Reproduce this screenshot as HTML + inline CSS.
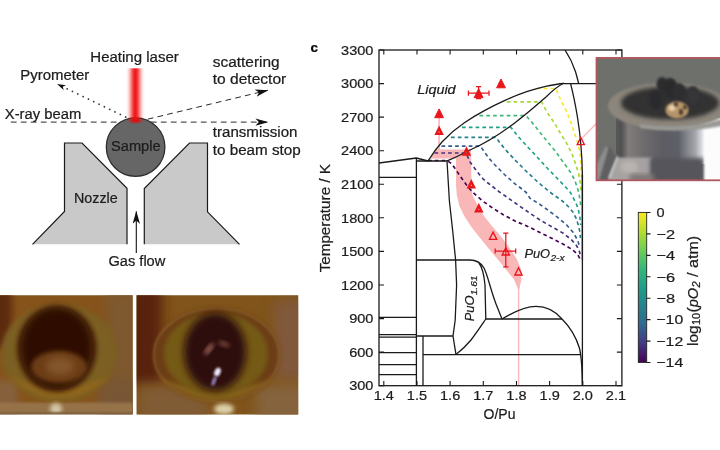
<!DOCTYPE html>
<html><head><meta charset="utf-8"><title>figure</title>
<style>
html,body{margin:0;padding:0;background:#fff;}
body{width:720px;height:450px;overflow:hidden;font-family:"Liberation Sans",sans-serif;}
svg{display:block;font-family:"Liberation Sans",sans-serif;}
</style></head><body>
<svg width="720" height="450" viewBox="0 0 720 450">
<g style="opacity:0.999">
<defs>
<linearGradient id="laser" x1="0" x2="1" y1="0" y2="0">
<stop offset="0" stop-color="#f01414" stop-opacity="0"/>
<stop offset="0.1" stop-color="#f01414" stop-opacity="0.07"/>
<stop offset="0.2" stop-color="#f01414" stop-opacity="0.27"/>
<stop offset="0.3" stop-color="#f01414" stop-opacity="0.58"/>
<stop offset="0.4" stop-color="#f01414" stop-opacity="0.87"/>
<stop offset="0.5" stop-color="#f01414" stop-opacity="1"/>
<stop offset="0.6" stop-color="#f01414" stop-opacity="0.87"/>
<stop offset="0.7" stop-color="#f01414" stop-opacity="0.58"/>
<stop offset="0.8" stop-color="#f01414" stop-opacity="0.27"/>
<stop offset="0.9" stop-color="#f01414" stop-opacity="0.07"/>
<stop offset="1" stop-color="#f01414" stop-opacity="0"/>
</linearGradient>
<linearGradient id="viridis" x1="0" x2="0" y1="0" y2="1">
<stop offset="0" stop-color="#fde725"/>
<stop offset="0.125" stop-color="#b5de2b"/>
<stop offset="0.25" stop-color="#6ece58"/>
<stop offset="0.375" stop-color="#35b779"/>
<stop offset="0.5" stop-color="#1f9e89"/>
<stop offset="0.625" stop-color="#26828e"/>
<stop offset="0.75" stop-color="#31688e"/>
<stop offset="0.875" stop-color="#443983"/>
<stop offset="1" stop-color="#440154"/>
</linearGradient>
<marker id="ah" viewBox="0 0 13 7.4" refX="12.4" refY="3.7" markerWidth="13" markerHeight="7.4" markerUnits="userSpaceOnUse" orient="auto">
<path d="M0,0 L13,3.7 L0,7.4 L3.4,3.7 Z" fill="#111"/></marker>
<marker id="ah2" viewBox="0 0 8.6 5.2" refX="8.2" refY="2.6" markerWidth="8.6" markerHeight="5.2" markerUnits="userSpaceOnUse" orient="auto">
<path d="M0,0 L8.6,2.6 L0,5.2 L2.2,2.6 Z" fill="#111"/></marker>
<filter id="b1" x="-20%" y="-20%" width="140%" height="140%"><feGaussianBlur stdDeviation="1"/></filter>
<filter id="b2" x="-20%" y="-20%" width="140%" height="140%"><feGaussianBlur stdDeviation="2"/></filter>
<filter id="b3" x="-30%" y="-30%" width="160%" height="160%"><feGaussianBlur stdDeviation="3.5"/></filter>
<filter id="b5" x="-40%" y="-40%" width="180%" height="180%"><feGaussianBlur stdDeviation="6"/></filter>
<filter id="b8" x="-50%" y="-50%" width="200%" height="200%"><feGaussianBlur stdDeviation="10"/></filter>
<clipPath id="cp1"><rect x="0" y="295.3" width="132.6" height="119"/></clipPath>
<clipPath id="cp2"><rect x="136.6" y="295.3" width="161.6" height="119.3"/></clipPath>
<clipPath id="cp3"><rect x="596" y="57.5" width="124" height="123"/></clipPath>
<clipPath id="cpplot"><rect x="379" y="50" width="242.9" height="335.7"/></clipPath>
</defs>
<rect x="0" y="0" width="720" height="450" fill="#ffffff"/>
<path d="M64.5,143 L82,143 L127,188.3 L127,244.3 L32.5,244.3 L64.5,211.5 Z" fill="#c9c9c9"/>
<path d="M32.5,244.3 L64.5,211.5 L64.5,143 L82,143 L127,188.3 L127,244.3" fill="none" stroke="#1a1a1a" stroke-width="1.2" stroke-linejoin="miter"/>
<path d="M207.5,143 L189.5,143 L144.3,188.5 L144.3,244.3 L239.5,244.3 L207.5,211.8 Z" fill="#c9c9c9"/>
<path d="M239.5,244.3 L207.5,211.8 L207.5,143 L189.5,143 L144.3,188.5 L144.3,244.3" fill="none" stroke="#1a1a1a" stroke-width="1.2" stroke-linejoin="miter"/>
<line x1="10.8" y1="122.1" x2="267.8" y2="122.1" stroke="#2a2a2a" stroke-width="1" stroke-dasharray="5.8,4.2" marker-end="url(#ah)"/>
<line x1="138" y1="121.5" x2="267.8" y2="90.3" stroke="#2a2a2a" stroke-width="1" stroke-dasharray="5.8,4.2" marker-end="url(#ah)"/>
<line x1="131" y1="119.6" x2="66" y2="88.3" stroke="#333" stroke-width="1.7" stroke-dasharray="0.1,5.8" stroke-linecap="round"/>
<line x1="66" y1="88.3" x2="57.4" y2="84.15" stroke="none" stroke-width="1" marker-end="url(#ah2)"/>
<circle cx="135.6" cy="147.1" r="29.3" fill="#666666" stroke="#2e2e2e" stroke-width="1.3"/>
<rect x="125.6" y="68.3" width="19.4" height="54" fill="url(#laser)"/>
<ellipse cx="135.7" cy="120.3" rx="5.5" ry="2.6" fill="#d01010" opacity="0.6" filter="url(#b1)"/>
<line x1="136.3" y1="253" x2="136.3" y2="211.5" stroke="#111" stroke-width="1.1" marker-end="url(#ah)"/>
<text x="90.30" y="61.80" font-size="13.91" textLength="88.44" lengthAdjust="spacingAndGlyphs" fill="#1c1c1c" stroke="#1c1c1c" stroke-width="0.22">Heating laser</text>
<text x="20.30" y="79.50" font-size="13.91" textLength="68.95" lengthAdjust="spacingAndGlyphs" fill="#1c1c1c" stroke="#1c1c1c" stroke-width="0.22">Pyrometer</text>
<text x="4.80" y="118.50" font-size="13.91" textLength="76.41" lengthAdjust="spacingAndGlyphs" fill="#1c1c1c" stroke="#1c1c1c" stroke-width="0.22">X-ray beam</text>
<text x="212.80" y="67.00" font-size="13.91" textLength="66.79" lengthAdjust="spacingAndGlyphs" fill="#1c1c1c" stroke="#1c1c1c" stroke-width="0.22">scattering</text>
<text x="212.80" y="83.80" font-size="13.91" textLength="73.46" lengthAdjust="spacingAndGlyphs" fill="#1c1c1c" stroke="#1c1c1c" stroke-width="0.22">to detector</text>
<text x="212.80" y="137.00" font-size="13.91" textLength="84.65" lengthAdjust="spacingAndGlyphs" fill="#1c1c1c" stroke="#1c1c1c" stroke-width="0.22">transmission</text>
<text x="212.80" y="154.50" font-size="13.91" textLength="87.93" lengthAdjust="spacingAndGlyphs" fill="#1c1c1c" stroke="#1c1c1c" stroke-width="0.22">to beam stop</text>
<text x="111.00" y="151.30" font-size="13.91" textLength="49.68" lengthAdjust="spacingAndGlyphs" fill="#1c1c1c" stroke="#1c1c1c" stroke-width="0.22">Sample</text>
<text x="74.00" y="203.30" font-size="13.91" textLength="43.76" lengthAdjust="spacingAndGlyphs" fill="#1c1c1c" stroke="#1c1c1c" stroke-width="0.22">Nozzle</text>
<text x="108.50" y="266.30" font-size="13.91" textLength="56.79" lengthAdjust="spacingAndGlyphs" fill="#1c1c1c" stroke="#1c1c1c" stroke-width="0.22">Gas flow</text>
<g clip-path="url(#cp1)">
<rect x="0" y="295" width="133" height="120" fill="#86531b"/>
<rect x="-14" y="288" width="26" height="60" fill="#5c2c0c" filter="url(#b3)"/>
<rect x="106" y="290" width="40" height="130" fill="#7e582e" filter="url(#b5)"/>
<rect x="98" y="380" width="50" height="45" fill="#785636" filter="url(#b5)"/>
<rect x="-12" y="380" width="30" height="40" fill="#86603a" filter="url(#b3)"/>
<rect x="-5" y="402.5" width="140" height="16" fill="#96724a" filter="url(#b1)"/>
<ellipse cx="59" cy="353" rx="58" ry="49" fill="#7c5e22" filter="url(#b2)"/>
<path d="M8,376 Q59,420 110,376 Q59,398 8,376 Z" fill="#90661e" filter="url(#b2)"/>
<ellipse cx="57" cy="349" rx="40" ry="43" fill="#54300e" filter="url(#b2)"/>
<ellipse cx="56.5" cy="348" rx="36" ry="40.5" fill="#2e0d06" filter="url(#b3)"/>
<ellipse cx="59" cy="367" rx="28" ry="16" fill="#6c3e15" filter="url(#b2)"/>
<ellipse cx="60" cy="366" rx="14" ry="9" fill="#845629" filter="url(#b3)"/>
<ellipse cx="56" cy="409" rx="6" ry="6" fill="#d4c6a4" filter="url(#b2)"/>
<rect x="-5" y="412.3" width="140" height="4" fill="#7a6040" filter="url(#b1)"/>
</g>
<g clip-path="url(#cp2)">
<rect x="136" y="295" width="163" height="120" fill="#80541a"/>
<rect x="124" y="284" width="38" height="100" fill="#58200a" filter="url(#b5)"/>
<rect x="274" y="300" width="36" height="80" fill="#80583a" filter="url(#b5)"/>
<rect x="256" y="385" width="50" height="40" fill="#85633d" filter="url(#b5)"/>
<rect x="140" y="386" width="68" height="34" fill="#805c34" filter="url(#b5)"/>
<ellipse cx="216.6" cy="355" rx="63" ry="47" fill="#6c3e12" filter="url(#b2)"/>
<ellipse cx="216.6" cy="355" rx="62.5" ry="46.5" fill="none" stroke="#8a5e30" stroke-width="1.5" filter="url(#b1)"/>
<path d="M160,378 Q216,424 274,378 Q216,400 160,378 Z" fill="#86621a" filter="url(#b2)"/>
<ellipse cx="216" cy="354" rx="52" ry="41" fill="#755a12" filter="url(#b2)"/>
<ellipse cx="215" cy="352" rx="31" ry="39" fill="#2e0c0a" filter="url(#b3)"/>
<ellipse cx="209" cy="349" rx="7" ry="2.6" fill="#9a6454" filter="url(#b2)" transform="rotate(-52 209 349)"/>
<ellipse cx="224" cy="344" rx="6" ry="2.2" fill="#7c4c3c" filter="url(#b2)" transform="rotate(20 224 344)"/>
<ellipse cx="217.5" cy="372" rx="3" ry="4.5" fill="#eeeaff" filter="url(#b1)" transform="rotate(25 217.5 372)"/>
<ellipse cx="214" cy="381" rx="2" ry="5" fill="#8a7ab0" filter="url(#b1)" transform="rotate(20 214 381)"/>
<ellipse cx="224" cy="409" rx="10" ry="5.5" fill="#dccfa8" filter="url(#b2)"/>
</g>
<g clip-path="url(#cpplot)">
<path d="M456.0,158.4 L456.0,185.0 L456.8,195.0 L459.2,205.6 L464.2,216.1 L471.2,226.7 L479.5,237.2 L488.0,247.8 L496.8,258.3 L505.6,268.9 L514.0,279.4 L517.9,289.0 L519.3,289.0 L521.4,279.4 L521.0,268.9 L516.4,258.3 L509.4,247.8 L501.6,237.2 L492.5,226.7 L484.0,216.1 L476.7,203.4 L472.4,195.0 L471.3,175.0 L471.0,149.6 Z" fill="#f9b7b8"/>
<path d="M436.2,149.6 L471,149.6 L471,158.4 L430,158.4 Z" fill="#f9b7b8"/>
<line x1="518.6" y1="285" x2="518.6" y2="386" stroke="#f9b7b8" stroke-width="1.4"/>
<line x1="439.1" y1="116" x2="439.1" y2="151" stroke="#f9b7b8" stroke-width="1.6"/>
<line x1="581" y1="139" x2="597" y2="123" stroke="#f9b7b8" stroke-width="1.2"/>
<path d="M428.0,160.5 L447.0,160.5 L452.0,164.0 L455.6,169.4 L459.4,175.0 L463.8,181.2 L468.0,187.0 L473.0,192.5 L478.0,197.0 L483.3,201.5 L493.3,208.5 L503.3,214.7 L515.0,221.0 L530.0,227.5 L540.0,232.5 L551.7,238.3 L563.3,244.2 L571.7,249.2 L577.5,254.2 L579.7,258.3 L580.4,261.5" fill="none" stroke="#440154" stroke-width="1.65" stroke-dasharray="3.7,3.1" stroke-linejoin="round"/>
<path d="M434.5,153.0 L466.0,153.0 L470.0,161.9 L474.4,168.0 L478.8,173.8 L483.0,178.8 L488.0,183.0 L493.8,187.5 L498.8,191.5 L506.7,197.0 L518.3,205.2 L530.0,213.3 L540.0,220.0 L551.7,226.7 L563.3,233.3 L571.7,240.0 L576.7,245.8 L579.2,250.8 L580.2,254.5" fill="none" stroke="#46327e" stroke-width="1.65" stroke-dasharray="3.7,3.1" stroke-linejoin="round"/>
<path d="M441.5,146.1 L480.6,146.2 L485.0,153.0 L490.0,159.4 L495.0,165.0 L500.0,170.0 L505.0,175.0 L510.0,179.4 L515.0,183.8 L520.6,188.0 L526.2,192.5 L530.0,198.3 L538.3,203.3 L546.7,209.2 L556.7,216.7 L566.7,225.0 L573.3,232.5 L577.5,240.0 L579.6,246.7" fill="none" stroke="#365c8d" stroke-width="1.65" stroke-dasharray="3.7,3.1" stroke-linejoin="round"/>
<path d="M451.0,137.3 L496.0,137.3 L501.2,144.5 L505.8,150.0 L515.0,160.0 L525.0,170.0 L535.0,179.5 L543.3,186.7 L551.7,193.5 L558.1,198.0 L563.6,202.0 L568.2,206.5 L572.9,212.0 L576.0,218.0 L578.3,225.0 L579.9,232.0 L580.4,238.0" fill="none" stroke="#277f8e" stroke-width="1.65" stroke-dasharray="3.7,3.1" stroke-linejoin="round"/>
<path d="M462.0,127.3 L511.0,127.4 L518.3,136.7 L527.5,146.7 L538.3,158.3 L548.3,169.2 L558.3,179.5 L566.0,187.5 L570.6,192.8 L573.7,198.7 L576.8,205.0 L578.6,211.0 L579.9,217.5 L580.6,225.0" fill="none" stroke="#1fa187" stroke-width="1.65" stroke-dasharray="3.7,3.1" stroke-linejoin="round"/>
<path d="M479.5,115.6 L526.0,115.6 L534.2,125.0 L540.0,132.5 L547.5,141.7 L555.8,151.7 L563.3,162.5 L567.5,168.0 L571.7,174.0 L575.3,181.7 L577.5,188.0 L579.1,194.5 L580.2,201.0 L580.8,208.0" fill="none" stroke="#40b878" stroke-width="1.65" stroke-dasharray="3.7,3.1" stroke-linejoin="round"/>
<path d="M506.7,101.9 L541.5,101.9 L546.7,111.7 L555.0,124.0 L560.0,132.5 L566.7,143.3 L572.5,155.0 L576.2,166.0 L578.7,174.0 L580.3,183.5 L581.2,192.0" fill="none" stroke="#a5db36" stroke-width="1.65" stroke-dasharray="3.7,3.1" stroke-linejoin="round"/>
<path d="M537.0,88.5 L556.0,88.5 L560.0,98.3 L566.7,111.7 L570.5,121.0 L574.2,132.5 L577.5,141.7 L580.0,152.0 L581.0,165.0 L581.5,178.0" fill="none" stroke="#fde725" stroke-width="1.65" stroke-dasharray="3.7,3.1" stroke-linejoin="round"/>
<path d="M379,163 L416.4,158 L428,161" fill="none" stroke="#1a1a1a" stroke-width="1.30" stroke-linejoin="round"/>
<path d="M379,177.4 H416.4" fill="none" stroke="#1a1a1a" stroke-width="1.30" stroke-linejoin="round"/>
<path d="M416.4,158 V385.7" fill="none" stroke="#1a1a1a" stroke-width="1.30" stroke-linejoin="round"/>
<path d="M416.4,161 H447" fill="none" stroke="#1a1a1a" stroke-width="1.30" stroke-linejoin="round"/>
<path d="M447,161 L449.4,201 L452.6,230 L455.6,260 L456.6,285 L455.2,320 L453,336 L456,354.6" fill="none" stroke="#1a1a1a" stroke-width="1.30" stroke-linejoin="round"/>
<path d="M428,161 C432,154.5 437,147.5 442.2,141.7 C449,134.5 456,128.5 464.4,122.8 C471,118.3 478,114 484.4,110.6 C491,107 498,103.5 504.4,100.6 C512,97.2 519,94.3 526.7,91.7 C533,89.6 540,87.6 546.7,86.1 C552,85 557,84 563.5,83.5" fill="none" stroke="#1a1a1a" stroke-width="1.30" stroke-linejoin="round"/>
<path d="M447,161 C455,157.5 462,154.5 470,150 C486,143 500,134 514,123.5 C528,113 538,104 546,97 C552,91 558,86 564,83" fill="none" stroke="#1a1a1a" stroke-width="1.30" stroke-linejoin="round"/>
<path d="M565,50 C569,56 573,64 575.6,72 C577,77 578,80.5 578.6,83.6" fill="none" stroke="#1a1a1a" stroke-width="1.30" stroke-linejoin="round"/>
<path d="M563.5,83.6 H622" fill="none" stroke="#1a1a1a" stroke-width="1.30" stroke-linejoin="round"/>
<path d="M570.6,83.6 C572.5,91 575,102 577.6,118 C580,133 582,150 582.4,175 L582.4,260" fill="none" stroke="#1a1a1a" stroke-width="1.30" stroke-linejoin="round"/>
<path d="M582.4,175 V385.7" fill="none" stroke="#1a1a1a" stroke-width="1.30" stroke-linejoin="round"/>
<path d="M416.4,260 H470 C476,260 481,263 484,268 C488,276 490,288 496,304 L502,319" fill="none" stroke="#1a1a1a" stroke-width="1.30" stroke-linejoin="round"/>
<path d="M479,263 C482,267 484,274 485,285 L485.8,319" fill="none" stroke="#1a1a1a" stroke-width="1.30" stroke-linejoin="round"/>
<path d="M379,317.3 H416.4" fill="none" stroke="#1a1a1a" stroke-width="1.30" stroke-linejoin="round"/>
<path d="M485.8,319 H562" fill="none" stroke="#1a1a1a" stroke-width="1.30" stroke-linejoin="round"/>
<path d="M502,319 C512,313 524,306.4 536,306.4 C548,306.4 556,312 562,319 C570,327 576,337 579.4,348 C581.4,356 582.2,366 582.4,385.7" fill="none" stroke="#1a1a1a" stroke-width="1.30" stroke-linejoin="round"/>
<path d="M379,334.6 H416.4" fill="none" stroke="#1a1a1a" stroke-width="1.30" stroke-linejoin="round"/>
<path d="M379,337.2 H416.4" fill="none" stroke="#1a1a1a" stroke-width="1.30" stroke-linejoin="round"/>
<path d="M379,352.6 H416.4" fill="none" stroke="#1a1a1a" stroke-width="1.30" stroke-linejoin="round"/>
<path d="M379,364.6 H416.4" fill="none" stroke="#1a1a1a" stroke-width="1.30" stroke-linejoin="round"/>
<path d="M379,374.6 H416.4" fill="none" stroke="#1a1a1a" stroke-width="1.30" stroke-linejoin="round"/>
<path d="M423,336 V385.7" fill="none" stroke="#1a1a1a" stroke-width="1.30" stroke-linejoin="round"/>
<path d="M416.4,336 H453" fill="none" stroke="#1a1a1a" stroke-width="1.30" stroke-linejoin="round"/>
<path d="M423,354.6 H580.6" fill="none" stroke="#1a1a1a" stroke-width="1.30" stroke-linejoin="round"/>
<path d="M456,354.6 C461,350.5 466,346 471,340 C476,333.5 481,326 485.8,319" fill="none" stroke="#1a1a1a" stroke-width="1.30" stroke-linejoin="round"/>
</g>
<path d="M468.4,93.2 H489.0 M468.4,90.6 V95.8 M489.0,90.6 V95.8 M478.6,86.6 V98.5 M476.0,86.6 H481.2 M476.0,98.5 H481.2" fill="none" stroke="#e8151b" stroke-width="1.25"/>
<path d="M478.6,88.8 L474.2,97.6 L483.0,97.6 Z" fill="#e8151b" stroke="#e8151b" stroke-width="1" stroke-linejoin="miter"/>
<path d="M501.0,79.0 L496.6,87.8 L505.4,87.8 Z" fill="#e8151b" stroke="#e8151b" stroke-width="1" stroke-linejoin="miter"/>
<path d="M439.1,108.9 L434.7,117.7 L443.5,117.7 Z" fill="#e8151b" stroke="#e8151b" stroke-width="1" stroke-linejoin="miter"/>
<path d="M439.10,128.30 L436.35,133.80 L441.85,133.80 Z" fill="none" stroke="#e8151b" stroke-width="2.45" stroke-linejoin="miter" stroke-miterlimit="6"/>
<path d="M466.50,149.00 L463.75,154.50 L469.25,154.50 Z" fill="none" stroke="#e8151b" stroke-width="2.45" stroke-linejoin="miter" stroke-miterlimit="6"/>
<path d="M471.30,181.70 L468.55,187.20 L474.05,187.20 Z" fill="none" stroke="#e8151b" stroke-width="2.45" stroke-linejoin="miter" stroke-miterlimit="6"/>
<path d="M478.80,205.70 L476.05,211.20 L481.55,211.20 Z" fill="none" stroke="#e8151b" stroke-width="2.45" stroke-linejoin="miter" stroke-miterlimit="6"/>
<path d="M493.10,232.10 L489.50,239.30 L496.70,239.30 Z" fill="none" stroke="#e8151b" stroke-width="1.35" stroke-linejoin="miter" stroke-miterlimit="6"/>
<path d="M495.2,251.0 H515.7 M495.2,248.4 V253.6 M515.7,248.4 V253.6 M505.8,233.0 V266.8 M503.2,233.0 H508.4 M503.2,266.8 H508.4" fill="none" stroke="#e8151b" stroke-width="1.25"/>
<path d="M505.80,247.80 L502.20,255.00 L509.40,255.00 Z" fill="none" stroke="#e8151b" stroke-width="1.35" stroke-linejoin="miter" stroke-miterlimit="6"/>
<path d="M518.50,267.80 L514.90,275.00 L522.10,275.00 Z" fill="none" stroke="#e8151b" stroke-width="1.35" stroke-linejoin="miter" stroke-miterlimit="6"/>
<path d="M580.80,137.40 L577.20,144.60 L584.40,144.60 Z" fill="none" stroke="#e8151b" stroke-width="1.35" stroke-linejoin="miter" stroke-miterlimit="6"/>
<rect x="379.0" y="50.0" width="242.9" height="335.7" fill="none" stroke="#1a1a1a" stroke-width="1.3"/>
<path d="M383.8,385.7 v-4.6 M383.8,50.0 v4.6 M417.0,385.7 v-4.6 M417.0,50.0 v4.6 M450.1,385.7 v-4.6 M450.1,50.0 v4.6 M483.3,385.7 v-4.6 M483.3,50.0 v4.6 M516.5,385.7 v-4.6 M516.5,50.0 v4.6 M549.6,385.7 v-4.6 M549.6,50.0 v4.6 M582.8,385.7 v-4.6 M582.8,50.0 v4.6 M616.0,385.7 v-4.6 M616.0,50.0 v4.6 M379.0,385.7 h5 M621.9,385.7 h-5 M379.0,352.1 h5 M621.9,352.1 h-5 M379.0,318.6 h5 M621.9,318.6 h-5 M379.0,285.0 h5 M621.9,285.0 h-5 M379.0,251.4 h5 M621.9,251.4 h-5 M379.0,217.8 h5 M621.9,217.8 h-5 M379.0,184.3 h5 M621.9,184.3 h-5 M379.0,150.7 h5 M621.9,150.7 h-5 M379.0,117.1 h5 M621.9,117.1 h-5 M379.0,83.6 h5 M621.9,83.6 h-5 M379.0,50.0 h5 M621.9,50.0 h-5" fill="none" stroke="#1a1a1a" stroke-width="1.1"/>
<text x="373.70" y="400.30" font-size="13.33" textLength="20.20" lengthAdjust="spacingAndGlyphs" fill="#1c1c1c" stroke="#1c1c1c" stroke-width="0.22">1.4</text>
<text x="406.87" y="400.30" font-size="13.33" textLength="20.20" lengthAdjust="spacingAndGlyphs" fill="#1c1c1c" stroke="#1c1c1c" stroke-width="0.22">1.5</text>
<text x="440.04" y="400.30" font-size="13.33" textLength="20.20" lengthAdjust="spacingAndGlyphs" fill="#1c1c1c" stroke="#1c1c1c" stroke-width="0.22">1.6</text>
<text x="473.21" y="400.30" font-size="13.33" textLength="20.20" lengthAdjust="spacingAndGlyphs" fill="#1c1c1c" stroke="#1c1c1c" stroke-width="0.22">1.7</text>
<text x="506.38" y="400.30" font-size="13.33" textLength="20.20" lengthAdjust="spacingAndGlyphs" fill="#1c1c1c" stroke="#1c1c1c" stroke-width="0.22">1.8</text>
<text x="539.55" y="400.30" font-size="13.33" textLength="20.20" lengthAdjust="spacingAndGlyphs" fill="#1c1c1c" stroke="#1c1c1c" stroke-width="0.22">1.9</text>
<text x="572.72" y="400.30" font-size="13.33" textLength="20.20" lengthAdjust="spacingAndGlyphs" fill="#1c1c1c" stroke="#1c1c1c" stroke-width="0.22">2.0</text>
<text x="605.89" y="400.30" font-size="13.33" textLength="20.20" lengthAdjust="spacingAndGlyphs" fill="#1c1c1c" stroke="#1c1c1c" stroke-width="0.22">2.1</text>
<text x="349.16" y="390.45" font-size="13.33" textLength="24.24" lengthAdjust="spacingAndGlyphs" fill="#1c1c1c" stroke="#1c1c1c" stroke-width="0.22">300</text>
<text x="349.16" y="356.88" font-size="13.33" textLength="24.24" lengthAdjust="spacingAndGlyphs" fill="#1c1c1c" stroke="#1c1c1c" stroke-width="0.22">600</text>
<text x="349.16" y="323.31" font-size="13.33" textLength="24.24" lengthAdjust="spacingAndGlyphs" fill="#1c1c1c" stroke="#1c1c1c" stroke-width="0.22">900</text>
<text x="341.08" y="289.74" font-size="13.33" textLength="32.32" lengthAdjust="spacingAndGlyphs" fill="#1c1c1c" stroke="#1c1c1c" stroke-width="0.22">1200</text>
<text x="341.08" y="256.17" font-size="13.33" textLength="32.32" lengthAdjust="spacingAndGlyphs" fill="#1c1c1c" stroke="#1c1c1c" stroke-width="0.22">1500</text>
<text x="341.08" y="222.60" font-size="13.33" textLength="32.32" lengthAdjust="spacingAndGlyphs" fill="#1c1c1c" stroke="#1c1c1c" stroke-width="0.22">1800</text>
<text x="341.08" y="189.03" font-size="13.33" textLength="32.32" lengthAdjust="spacingAndGlyphs" fill="#1c1c1c" stroke="#1c1c1c" stroke-width="0.22">2100</text>
<text x="341.08" y="155.46" font-size="13.33" textLength="32.32" lengthAdjust="spacingAndGlyphs" fill="#1c1c1c" stroke="#1c1c1c" stroke-width="0.22">2400</text>
<text x="341.08" y="121.89" font-size="13.33" textLength="32.32" lengthAdjust="spacingAndGlyphs" fill="#1c1c1c" stroke="#1c1c1c" stroke-width="0.22">2700</text>
<text x="341.08" y="88.32" font-size="13.33" textLength="32.32" lengthAdjust="spacingAndGlyphs" fill="#1c1c1c" stroke="#1c1c1c" stroke-width="0.22">3000</text>
<text x="341.08" y="54.75" font-size="13.33" textLength="32.32" lengthAdjust="spacingAndGlyphs" fill="#1c1c1c" stroke="#1c1c1c" stroke-width="0.22">3300</text>
<text x="483.57" y="418.50" font-size="14.28" textLength="31.87" lengthAdjust="spacingAndGlyphs" fill="#1c1c1c" stroke="#1c1c1c" stroke-width="0.22">O/Pu</text>
<text x="276.25" y="218.20" font-size="14.28" textLength="108.30" lengthAdjust="spacingAndGlyphs" fill="#1c1c1c" stroke="#1c1c1c" stroke-width="0.22" transform="rotate(-90 330.40 218.20)">Temperature / K</text>
<text x="310.60" y="52.00" font-size="13.23" textLength="7.47" lengthAdjust="spacingAndGlyphs" fill="#000" stroke="#000" stroke-width="0.22" font-weight="bold">c</text>
<text x="417.30" y="93.60" font-size="13.33" textLength="38.30" lengthAdjust="spacingAndGlyphs" fill="#1c1c1c" stroke="#1c1c1c" stroke-width="0.22" font-style="italic">Liquid</text>
<text x="524.40" y="257.60" font-size="13.33" textLength="25.70" lengthAdjust="spacingAndGlyphs" fill="#1c1c1c" stroke="#1c1c1c" stroke-width="0.22" font-style="italic">PuO</text>
<text x="550.40" y="260.90" font-size="9.33" textLength="14.13" lengthAdjust="spacingAndGlyphs" fill="#1c1c1c" stroke="#1c1c1c" stroke-width="0.22" font-style="italic">2-x</text>
<g transform="rotate(-90 474 321.3)">
<text x="474.00" y="321.30" font-size="13.33" textLength="25.70" lengthAdjust="spacingAndGlyphs" fill="#1c1c1c" stroke="#1c1c1c" stroke-width="0.22" font-style="italic">PuO</text>
<text x="500.00" y="324.50" font-size="9.33" textLength="19.79" lengthAdjust="spacingAndGlyphs" fill="#1c1c1c" stroke="#1c1c1c" stroke-width="0.22" font-style="italic">1.61</text>
</g>
<rect x="638.3" y="212.4" width="8.4" height="150" fill="url(#viridis)" stroke="#222" stroke-width="0.9"/>
<text x="656.40" y="217.25" font-size="13.33" textLength="8.08" lengthAdjust="spacingAndGlyphs" fill="#1c1c1c" stroke="#1c1c1c" stroke-width="0.22">0</text>
<text x="656.40" y="238.68" font-size="13.33" textLength="18.72" lengthAdjust="spacingAndGlyphs" fill="#1c1c1c" stroke="#1c1c1c" stroke-width="0.22">−2</text>
<text x="656.40" y="260.11" font-size="13.33" textLength="18.72" lengthAdjust="spacingAndGlyphs" fill="#1c1c1c" stroke="#1c1c1c" stroke-width="0.22">−4</text>
<text x="656.40" y="281.54" font-size="13.33" textLength="18.72" lengthAdjust="spacingAndGlyphs" fill="#1c1c1c" stroke="#1c1c1c" stroke-width="0.22">−6</text>
<text x="656.40" y="302.97" font-size="13.33" textLength="18.72" lengthAdjust="spacingAndGlyphs" fill="#1c1c1c" stroke="#1c1c1c" stroke-width="0.22">−8</text>
<text x="656.40" y="324.40" font-size="13.33" textLength="26.80" lengthAdjust="spacingAndGlyphs" fill="#1c1c1c" stroke="#1c1c1c" stroke-width="0.22">−10</text>
<text x="656.40" y="345.83" font-size="13.33" textLength="26.80" lengthAdjust="spacingAndGlyphs" fill="#1c1c1c" stroke="#1c1c1c" stroke-width="0.22">−12</text>
<text x="656.40" y="367.26" font-size="13.33" textLength="26.80" lengthAdjust="spacingAndGlyphs" fill="#1c1c1c" stroke="#1c1c1c" stroke-width="0.22">−14</text>
<path d="M646.7,212.5 h3.8 M646.7,233.9 h3.8 M646.7,255.4 h3.8 M646.7,276.8 h3.8 M646.7,298.2 h3.8 M646.7,319.6 h3.8 M646.7,341.1 h3.8 M646.7,362.5 h3.8" fill="none" stroke="#1a1a1a" stroke-width="1.1"/>
<g transform="rotate(-90 697.7 346)">
<text x="697.70" y="346.00" font-size="14.28" textLength="20.73" lengthAdjust="spacingAndGlyphs" fill="#1c1c1c" stroke="#1c1c1c" stroke-width="0.22">log</text>
<text x="718.73" y="348.40" font-size="10.00" textLength="12.11" lengthAdjust="spacingAndGlyphs" fill="#1c1c1c" stroke="#1c1c1c" stroke-width="0.22">10</text>
<text x="731.15" y="346.00" font-size="14.28" textLength="5.31" lengthAdjust="spacingAndGlyphs" fill="#1c1c1c" stroke="#1c1c1c" stroke-width="0.22">(</text>
<text x="736.45" y="346.00" font-size="14.28" textLength="19.34" lengthAdjust="spacingAndGlyphs" fill="#1c1c1c" stroke="#1c1c1c" stroke-width="0.22" font-style="italic">pO</text>
<text x="756.09" y="348.40" font-size="10.00" textLength="6.06" lengthAdjust="spacingAndGlyphs" fill="#1c1c1c" stroke="#1c1c1c" stroke-width="0.22" font-style="italic">2</text>
<text x="766.77" y="346.00" font-size="14.28" textLength="41.13" lengthAdjust="spacingAndGlyphs" fill="#1c1c1c" stroke="#1c1c1c" stroke-width="0.22">/ atm)</text>
</g>
<defs><linearGradient id="neck" gradientUnits="userSpaceOnUse" x1="616" x2="720" y1="0" y2="0">
<stop offset="0" stop-color="#585858"/><stop offset="0.05" stop-color="#505050"/><stop offset="0.12" stop-color="#807c7a"/>
<stop offset="0.28" stop-color="#6e6a6c"/><stop offset="0.45" stop-color="#5d5d63"/><stop offset="0.6" stop-color="#5e6068"/>
<stop offset="0.67" stop-color="#7e8086"/><stop offset="0.76" stop-color="#a2a4aa"/><stop offset="0.83" stop-color="#e0e0e4"/><stop offset="0.86" stop-color="#fafafa"/><stop offset="1" stop-color="#fdfdfd"/></linearGradient></defs>
<g clip-path="url(#cp3)">
<rect x="595" y="56" width="126" height="125" fill="#6e706c"/>
<rect x="616" y="118" width="106" height="46" fill="url(#neck)"/>
<path d="M618,157.5 L652,157.5 L652,183 L596,183 L604,160 Z" fill="#a6a2a2" filter="url(#b1)"/>
<path d="M650,158 L704,158 L704,183 L650,183 Z" fill="#57555b" filter="url(#b2)"/>
<path d="M606,146 L618,157 L607,181 L595,181 L595,168 Z" fill="#8e8e8e" filter="url(#b1)"/>
<rect x="704" y="118" width="20" height="66" fill="#fcfcfc" filter="url(#b1)"/>
<rect x="640" y="121" width="60" height="5" fill="#8a8a84" filter="url(#b2)"/>
<path d="M609,146 L618,157 L608,181 L599,181 Z" fill="#5e5e5e" filter="url(#b1)"/>
<line x1="617.6" y1="157" x2="609" y2="178.5" stroke="#e4e4e4" stroke-width="1.9" filter="url(#b1)"/>
<ellipse cx="629" cy="167" rx="9" ry="6" fill="#bcb4b0" filter="url(#b2)"/>
<rect x="630" y="174" width="24" height="8" fill="#7e7876" filter="url(#b2)"/>
<ellipse cx="668" cy="106" rx="60" ry="23.5" fill="#8c867b" filter="url(#b1)"/>
<path d="M640,124 Q680,131 722,119 L722,126 Q680,134 640,128 Z" fill="#9a9a96" filter="url(#b1)"/>
<ellipse cx="670" cy="103" rx="49" ry="16.5" fill="#333333" filter="url(#b2)"/>
<ellipse cx="662" cy="84" rx="5.5" ry="7" fill="#2e2e30" filter="url(#b1)"/>
<ellipse cx="670" cy="88" rx="8" ry="10" fill="#2a2a2c" filter="url(#b1)"/>
<ellipse cx="679" cy="92" rx="7" ry="9" fill="#2e2e32" filter="url(#b1)"/>
<ellipse cx="693" cy="96" rx="6.5" ry="10" fill="#343438" filter="url(#b1)"/>
<ellipse cx="656" cy="100" rx="7" ry="9" fill="#2c2c2e" filter="url(#b1)"/>
<ellipse cx="677" cy="110" rx="11.5" ry="8.5" fill="#b59469" filter="url(#b1)"/>
<ellipse cx="672" cy="108" rx="3.5" ry="3" fill="#e6d2ac" filter="url(#b1)"/>
<ellipse cx="681" cy="112" rx="2" ry="3" fill="#4a3a2e" filter="url(#b1)"/>
<ellipse cx="676" cy="104" rx="2" ry="2.5" fill="#4a3a2e" filter="url(#b1)"/>
<ellipse cx="685" cy="107" rx="1.8" ry="2.5" fill="#4a3a2e" filter="url(#b1)"/>
</g>
<rect x="596.5" y="58" width="126" height="122.3" fill="none" stroke="#b0565e" stroke-width="1.8"/>
</g>
</svg>
</body></html>
